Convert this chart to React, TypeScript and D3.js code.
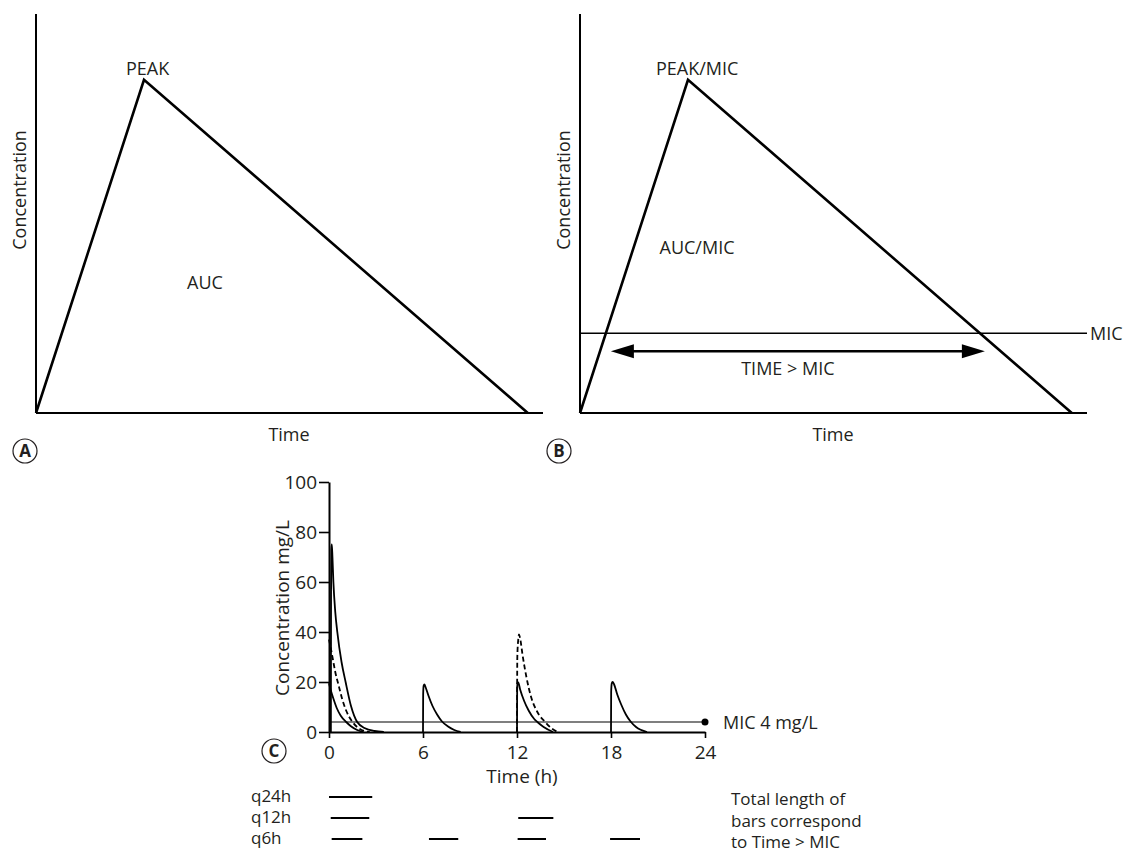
import React, { useEffect, useRef } from 'react';
import * as d3 from 'd3';

// Panels A and B: schematic single dose (relative units 0..1)
const schemeTime = [0, 0.213, 0.97];
const schemeConc = [0, 0.835, 0];
const micLevel = 0.2;

// Panel C: concentration (mg/L) vs time (h)
const timeTicks = [0, 6, 12, 18, 24];
const concTicks = [0, 20, 40, 60, 80, 100];
const micValue = 4;

// q24h, one large dose (solid)
const q24hCurves = [
    [[0.12, 0], [0.13, 55], [0.15, 73], [0.18, 75], [0.22, 70], [0.28, 60], [0.4, 48], [0.53, 40], [0.8, 28], [1.06, 20], [1.4, 10.5], [1.8, 4], [2.3, 1.5], [2.9, 0.4], [3.5, 0]],
];
// q12h (dashed)
const q12hCurves = [
    [[0, 37], [0.1, 34], [0.25, 29], [0.4, 24], [0.6, 19], [0.85, 13], [1.1, 8.5], [1.5, 4], [1.9, 1.5], [2.3, 0.3], [2.6, 0]],
    [[12.0, 0], [12.02, 30], [12.08, 37], [12.13, 39], [12.2, 37.5], [12.35, 31], [12.6, 22], [12.9, 14], [13.3, 8], [13.8, 4], [14.2, 1.5], [14.6, 0]],
];
// q6h (solid, small doses)
const q6hCurves = [
    [[0, 19.5], [0.1, 17], [0.3, 13], [0.5, 9.5], [0.75, 6.5], [1.1, 4], [1.4, 2.3], [1.8, 0.8], [2.2, 0]],
    [[6.0, 0], [6.01, 15], [6.04, 18.5], [6.09, 19], [6.16, 18], [6.35, 14.5], [6.6, 10.5], [6.9, 7], [7.2, 4.3], [7.6, 2.2], [8.0, 0.8], [8.4, 0]],
    [[12.0, 0], [12.01, 17], [12.03, 19.5], [12.08, 19.8], [12.2, 17], [12.45, 12.5], [12.75, 8.5], [13.1, 5.2], [13.3, 4], [13.7, 2], [14.3, 0]],
    [[18.0, 0], [18.01, 16], [18.05, 19.5], [18.1, 20], [18.2, 19], [18.4, 15], [18.65, 11], [18.95, 7], [19.25, 4.2], [19.6, 2], [20.3, 0]],
];

// Time > MIC bars (h)
const regimens = ['q24h', 'q12h', 'q6h'];
const q24hBars = [[0, 2.76]];
const q12hBars = [[0.11, 2.57], [12.08, 14.32]];
const q6hBars = [[0.17, 2.13], [6.38, 8.25], [12.04, 13.85], [17.94, 19.85]];
const noteLines = ['Total length of', 'bars correspond', 'to Time > MIC'];

const W = 1125;
const H = 862;
const FONT = '"Open Sans", "DejaVu Sans", sans-serif';
const INK = '#231f20';

const App = () => {
    const svgRef = useRef(null);

    useEffect(() => {
        const svg = d3.select(svgRef.current);
        svg.selectAll('*').remove();

        const label = (x, y, txt, opts: any = {}) => svg.append('text')
            .attr('x', x).attr('y', y)
            .attr('text-anchor', opts.anchor || 'middle')
            .attr('font-family', FONT)
            .attr('font-size', opts.size || 18)
            .attr('font-weight', opts.weight || 400)
            .attr('fill', INK)
            .attr('transform', opts.rotate ? `rotate(-90,${x},${y})` : null)
            .text(txt);

        const circleLabel = (cx, cy, letter) => {
            svg.append('circle').attr('cx', cx).attr('cy', cy).attr('r', 12)
                .attr('fill', 'none').attr('stroke', INK).attr('stroke-width', 1.2);
            label(cx, cy + 6, letter, { size: 17, weight: 700 });
        };

        // ---- Panels A & B ----
        const drawScheme = (x0, withMic) => {
            const x = d3.scaleLinear().domain([0, 1]).range([x0, x0 + 507]);
            const y = d3.scaleLinear().domain([0, 1]).range([413, 14]);
            const g = svg.append('g');
            g.append('line').attr('x1', x(0)).attr('x2', x(0)).attr('y1', y(1)).attr('y2', y(0))
                .attr('stroke', '#000').attr('stroke-width', 2);
            g.append('line').attr('x1', x(0)).attr('x2', x(1)).attr('y1', y(0)).attr('y2', y(0))
                .attr('stroke', '#000').attr('stroke-width', 2);
            const pts = schemeTime.map((t, i) => [t, schemeConc[i]]);
            g.append('path')
                .attr('d', d3.line().x(d => x(d[0])).y(d => y(d[1]))(pts))
                .attr('fill', 'none').attr('stroke', '#000').attr('stroke-width', 2.6)
                .attr('stroke-linejoin', 'miter');

            const peakX = x(schemeTime[1]);
            const peakY = y(schemeConc[1]);
            label(x0 + 253, 441, 'Time');
            label(x0 - 10, 190, 'Concentration', { rotate: true });

            if (!withMic) {
                label(peakX - 18, peakY - 5, 'PEAK', { anchor: 'start' });
                label(x0 + 169, 289, 'AUC');
            } else {
                label(peakX - 32, peakY - 5, 'PEAK/MIC', { anchor: 'start' });
                label(x0 + 117, 254, 'AUC/MIC');
                const ym = y(micLevel);
                g.append('line').attr('x1', x(0)).attr('x2', x(1)).attr('y1', ym).attr('y2', ym)
                    .attr('stroke', '#000').attr('stroke-width', 1.6);
                label(x(1) + 3, ym + 7, 'MIC', { anchor: 'start' });

                // Time above MIC, from the crossings of the triangle with the MIC line
                const tIn = schemeTime[1] * micLevel / schemeConc[1];
                const tOut = schemeTime[2] - (schemeTime[2] - schemeTime[1]) * micLevel / schemeConc[1];
                const xl = x(tIn) + 5;
                const xr = x(tOut) + 5;
                const ya = ym + 18;
                g.append('line').attr('x1', xl + 10).attr('x2', xr - 10).attr('y1', ya).attr('y2', ya)
                    .attr('stroke', '#000').attr('stroke-width', 2.6);
                g.append('path').attr('d', `M${xl},${ya}L${xl + 23},${ya - 7}L${xl + 23},${ya + 7}Z`).attr('fill', '#000');
                g.append('path').attr('d', `M${xr},${ya}L${xr - 23},${ya - 7}L${xr - 23},${ya + 7}Z`).attr('fill', '#000');
                label((xl + xr) / 2 - 10, ya + 24, 'TIME > MIC');
            }
        };
        drawScheme(36, false);
        drawScheme(580, true);
        circleLabel(25, 451, 'A');
        circleLabel(559, 451, 'B');

        // ---- Panel C ----
        const xC = d3.scaleLinear().domain([0, 24]).range([329, 705]);
        const yC = d3.scaleLinear().domain([0, 100]).range([732, 482]);

        const styleAxis = (g) => {
            g.attr('font-family', FONT).attr('font-size', 19).attr('color', '#000');
            g.select('.domain').attr('stroke-width', 2);
            g.selectAll('.tick line').attr('stroke-width', 1.6);
            g.selectAll('.tick text').attr('fill', INK);
        };

        svg.append('g')
            .attr('transform', `translate(0,${yC(0)})`)
            .call(d3.axisBottom(xC).tickValues(timeTicks).tickSize(6).tickSizeOuter(0).tickPadding(8))
            .call(styleAxis);

        svg.append('g')
            .attr('transform', `translate(${xC(0)},0)`)
            .call(d3.axisLeft(yC).tickValues(concTicks).tickSize(10).tickSizeOuter(0).tickPadding(2))
            .call(styleAxis);

        // MIC line
        svg.append('line').attr('x1', xC(0)).attr('x2', xC(24)).attr('y1', yC(micValue)).attr('y2', yC(micValue))
            .attr('stroke', '#000').attr('stroke-width', 1.2);
        svg.append('circle').attr('cx', xC(24)).attr('cy', yC(micValue)).attr('r', 3.5).attr('fill', '#000');
        label(xC(24) + 18, yC(micValue) + 7, 'MIC 4 mg/L', { anchor: 'start' });

        const curve = d3.line().x(d => xC(d[0])).y(d => yC(d[1])).curve(d3.curveMonotoneX);
        const drawCurves = (curves, dashed) => {
            svg.append('g').selectAll('path')
                .data(curves)
                .join('path')
                .attr('d', d => curve(d))
                .attr('fill', 'none')
                .attr('stroke', '#000')
                .attr('stroke-width', 1.8)
                .attr('stroke-dasharray', dashed ? '5 3' : null);
        };
        drawCurves(q24hCurves, false);
        drawCurves(q12hCurves, true);
        drawCurves(q6hCurves, false);

        label(522, 783, 'Time (h)', { size: 19 });
        label(289, 608, 'Concentration mg/L', { size: 19, rotate: true });
        circleLabel(274, 751, 'C');

        // Bars of time above MIC
        const rowY = d3.scalePoint().domain(regimens).range([797, 839]);
        const bars = { q24h: q24hBars, q12h: q12hBars, q6h: q6hBars };
        regimens.forEach(r => {
            label(251, rowY(r) + 5, r, { anchor: 'start', size: 17 });
            svg.append('g').selectAll('line')
                .data(bars[r])
                .join('line')
                .attr('x1', d => xC(d[0])).attr('x2', d => xC(d[1]))
                .attr('y1', rowY(r)).attr('y2', rowY(r))
                .attr('stroke', '#000').attr('stroke-width', 2);
        });
        noteLines.forEach((t, i) => label(731, 805 + i * 21.5, t, { anchor: 'start', size: 17 }));
    }, []);

    return (
        <div style={{ position: 'absolute', left: 0, top: 0, width: W, height: H, background: '#fff' }}>
            <svg ref={svgRef} width={W} height={H} style={{ display: 'block' }}></svg>
        </div>
    );
};

export default App;
